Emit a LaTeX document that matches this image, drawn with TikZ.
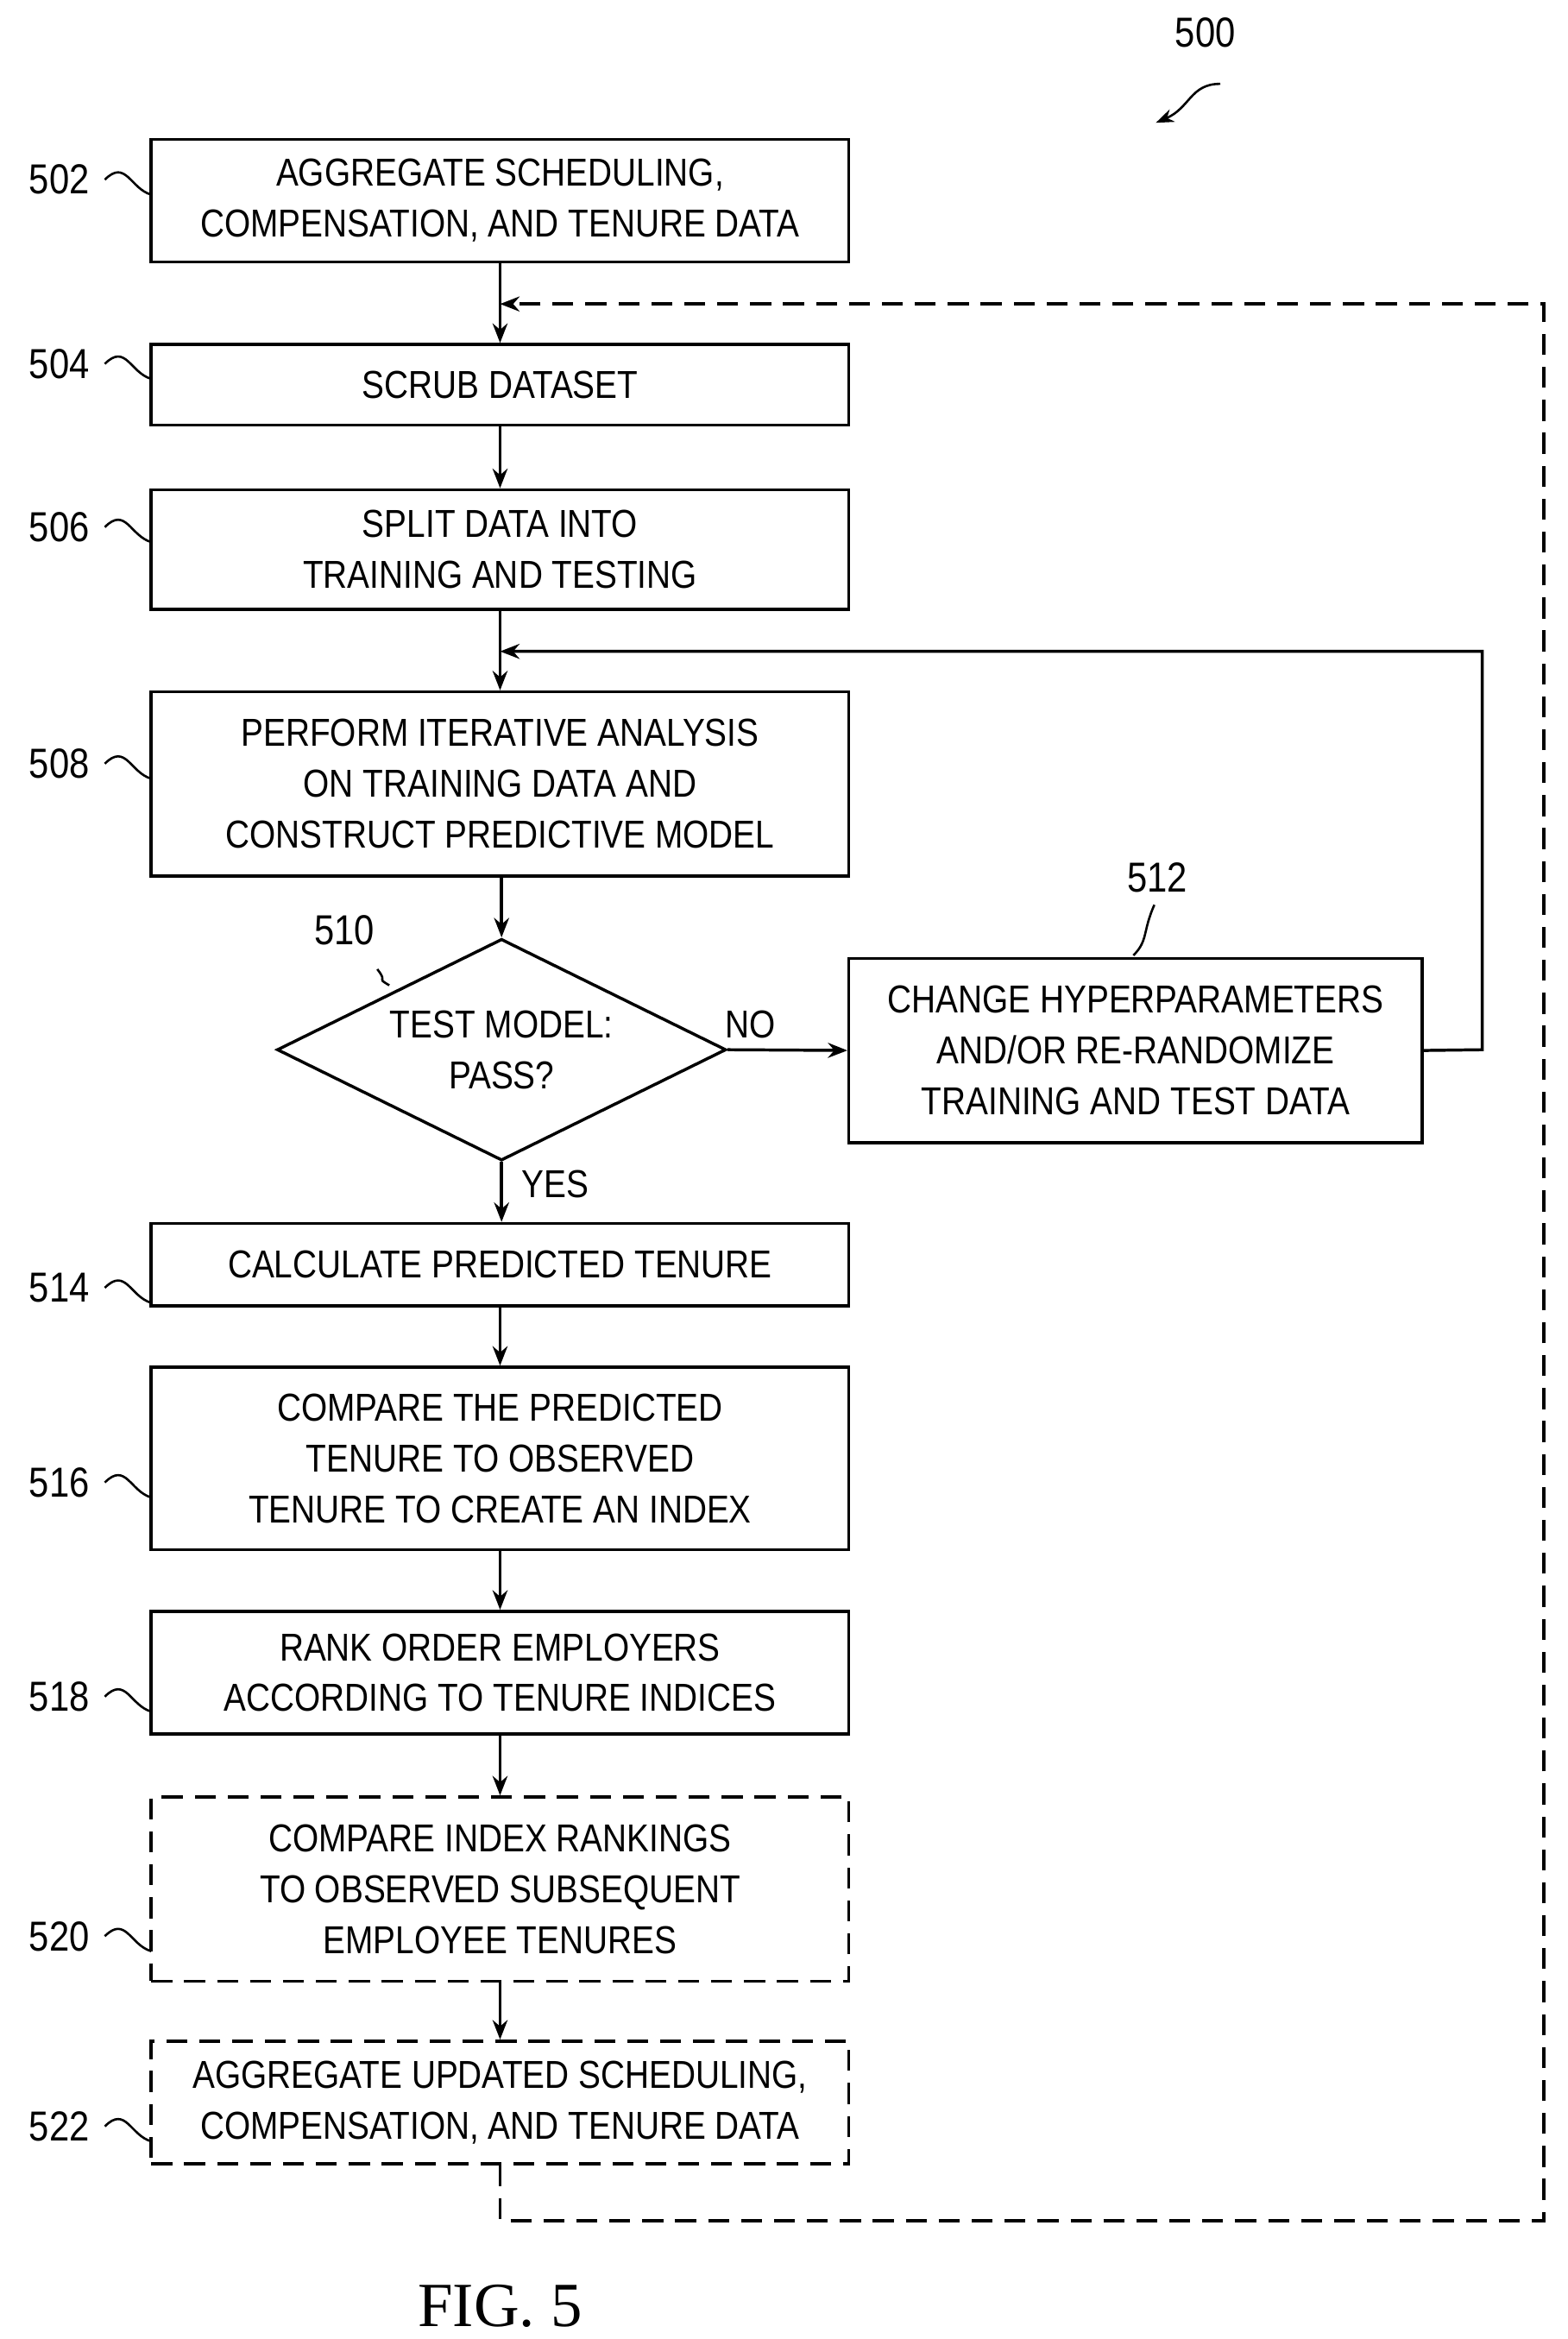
\documentclass[tikz,border=0pt]{standalone}
\usepackage{fontspec}
\setmainfont{Liberation Sans}[FakeStretch=0.86]
\newfontfamily\figfont{Liberation Serif}
\usetikzlibrary{shapes.geometric,arrows.meta}
\begin{document}
\begin{tikzpicture}[x=1pt,y=-1pt,line width=2pt,
  box/.style={draw,align=center,font=\fontsize{26}{34}\selectfont,inner sep=0pt},
  dbox/.style={box,dashed,dash pattern=on 14pt off 8pt},
  lab/.style={font=\fontsize{28}{30}\selectfont},
  arr/.style={-{Stealth[length=13pt,width=10pt]}},
  sq/.style={line width=1.5pt}]
\useasboundingbox (0,0) rectangle (1047,1562);
\node[box,minimum width=466pt,minimum height=82pt] (b502) at (334,134) {AGGREGATE SCHEDULING,\\COMPENSATION, AND TENURE DATA};
\node[box,minimum width=466pt,minimum height=54pt] (b504) at (334,257) {SCRUB DATASET};
\node[box,minimum width=466pt,minimum height=80pt] (b506) at (334,367) {SPLIT DATA INTO\\TRAINING AND TESTING};
\node[box,minimum width=466pt,minimum height=123pt] (b508) at (334,523.5) {PERFORM ITERATIVE ANALYSIS\\ON TRAINING DATA AND\\CONSTRUCT PREDICTIVE MODEL};
\node[draw,diamond,aspect=2.03,minimum width=300pt,minimum height=148pt,inner sep=0pt,align=center,font=\fontsize{26}{34}\selectfont] (d510) at (335,701) {TEST MODEL:\\PASS?};
\node[box,minimum width=383pt,minimum height=123pt] (b512) at (758.5,701.5) {CHANGE HYPERPARAMETERS\\AND/OR RE-RANDOMIZE\\TRAINING AND TEST DATA};
\node[box,minimum width=466pt,minimum height=55pt] (b514) at (334,844.5) {CALCULATE PREDICTED TENURE};
\node[box,minimum width=466pt,minimum height=122pt] (b516) at (334,974) {COMPARE THE PREDICTED\\TENURE TO OBSERVED\\TENURE TO CREATE AN INDEX};
\node[box,minimum width=466pt,minimum height=82pt] (b518) at (334,1117) {RANK ORDER EMPLOYERS\\ACCORDING TO TENURE INDICES};
\node[dbox,minimum width=466pt,minimum height=123pt] (b520) at (334,1261.5) {COMPARE INDEX RANKINGS\\TO OBSERVED SUBSEQUENT\\EMPLOYEE TENURES};
\node[dbox,minimum width=466pt,minimum height=82pt] (b522) at (334,1404) {AGGREGATE UPDATED SCHEDULING,\\COMPENSATION, AND TENURE DATA};

\draw[arr] (b502) -- (b504);
\draw[arr] (b504) -- (b506);
\draw[arr] (b506) -- (b508);
\draw[arr] (b508.south -| d510.north) -- (d510.north);
\draw[arr] (d510.east) -- (b512.west);
\node[font=\fontsize{26}{30}\selectfont] (no) at (501,684) {NO};
\draw[arr] (d510.south) -- (d510.south |- b514.north);
\node[font=\fontsize{26}{30}\selectfont] (yes) at (371,791) {YES};
\draw[arr] (b514) -- (b516);
\draw[arr] (b516) -- (b518);
\draw[arr] (b518) -- (b520);
\draw[arr] (b520) -- (b522);
\coordinate (t1) at (334,435);
\draw[arr] (b512.east) -- (990,701) -- (990,435) -- (t1);
\coordinate (t2) at (334,203);
\draw[arr,dash pattern=on 14pt off 8pt] (b522.south) -- (334,1483) -- (1031,1483) -- (1031,203) -- (t2);

\foreach \n/\y in {502/120,504/243,506/352,508/510,514/860,516/990,518/1133,520/1293,522/1420}{
  \node[lab,anchor=east] (l\n) at (64,\y) {\n};
  \draw[sq] (l\n.east) ++(6,0) .. controls +(14,-14) and +(-14,-4) .. (101,\y+10);
}
\node[lab] (l500) at (805,22) {500};
\draw[sq,-{Stealth[length=12pt,width=9pt]}] (815,56) .. controls (795,56) and (795,72) .. (772,82);
\node[lab] (l510) at (230,621) {510};
\draw[sq] (l510.south) ++(22,12) .. controls +(8,10) and +(-10,-6) .. (260,658);
\node[lab] (l512) at (773,586) {512};
\draw[sq] (l512.south) ++(-2,4) .. controls +(-8,18) and +(10,-10) .. (757,638);
\node[font=\figfont\fontsize{42}{46}\selectfont] (fig) at (334,1540) {FIG. 5};
\end{tikzpicture}
\end{document}
